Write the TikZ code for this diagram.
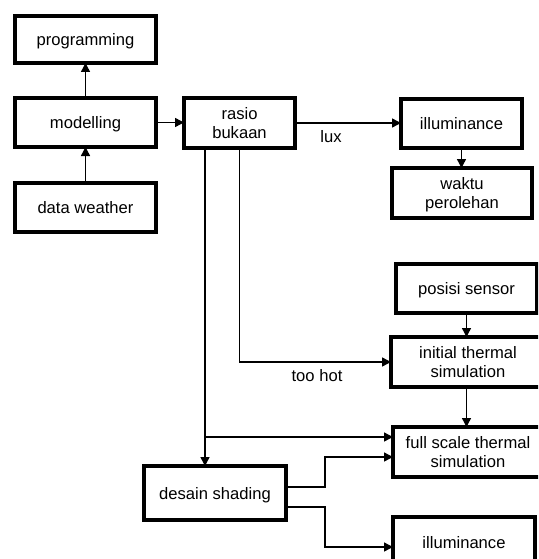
\documentclass[tikz,border=0pt]{standalone}
\usepackage{fontspec}
\setmainfont{Liberation Sans}
\usetikzlibrary{arrows.meta}
\begin{document}
\begin{tikzpicture}[x=1pt,y=-1pt,
  box/.style={draw, line width=3.2pt, inner sep=0pt, outer sep=0pt, align=center,
    font=\fontsize{16.6}{18.5}\selectfont, text depth=0pt},
  arr/.style={line width=1.4pt, -{Triangle[length=9pt,width=9pt]}},
  lbl/.style={font=\fontsize{16.6}{18.5}\selectfont, inner sep=0pt}]
\path[use as bounding box] (0,0) rectangle (538,559);
\clip (0,0) rectangle (538,559);
\fill[white] (0,0) rectangle (538,559);
\node[box, minimum width=141pt, minimum height=47pt] (prog) at (85.5,39.5) {programming};
\node[box, minimum width=141pt, minimum height=49pt] (model) at (85.5,122.5) {modelling};
\node[box, minimum width=141pt, minimum height=49pt] (dw) at (85.5,207.5) {data weather};
\node[box, minimum width=111pt, minimum height=50pt] (rasio) at (239.5,123) {rasio\\bukaan};
\node[box, minimum width=121pt, minimum height=49pt] (illum) at (461.5,123.5) {illuminance};
\node[box, minimum width=140pt, minimum height=50pt] (waktu) at (462,193) {waktu\\perolehan};
\node[box, minimum width=141pt, minimum height=49pt] (posisi) at (466.5,288.5) {posisi sensor};
\node[box, minimum width=154pt, minimum height=50pt] (initial) at (468,362) {initial thermal\\simulation};
\node[box, minimum width=150pt, minimum height=50pt] (full) at (468,452) {full scale thermal\\simulation};
\node[box, minimum width=142pt, minimum height=54pt] (desain) at (215,493) {desain shading};
\node[box, minimum width=142pt, minimum height=50pt] (illumb) at (464,542) {illuminance};
\coordinate (j1) at (205,437);
\coordinate (k1) at (325,487);
\coordinate (k2) at (325,507);
\draw[arr] (model.north) -- (prog.south);
\draw[arr] (dw.north) -- (model.south);
\draw[arr] (model.east) -- (model.east -| rasio.west);
\draw[arr] (rasio.east) -- (rasio.east -| illum.west);
\node[lbl] (lux) at (331,137) {lux};
\draw[arr] (illum.south) -- (illum.south |- waktu.north);
\draw[arr] (posisi.south) -- (posisi.south |- initial.north);
\draw[arr] (posisi.south |- initial.south) -- (posisi.south |- full.north);
\draw[arr] (rasio.south) |- (initial.west);
\node[lbl] (hot) at (317,376) {too hot};
\draw[arr] (rasio.south -| j1) -- (j1 |- desain.north);
\draw[arr] (j1) -- (j1 -| full.west);
\draw[arr] (desain.east |- k1) -- (k1) |- (full.west |- 0,457);
\draw[arr] (desain.east |- k2) -- (k2) |- (illumb.west |- 0,547);
\end{tikzpicture}
\end{document}
